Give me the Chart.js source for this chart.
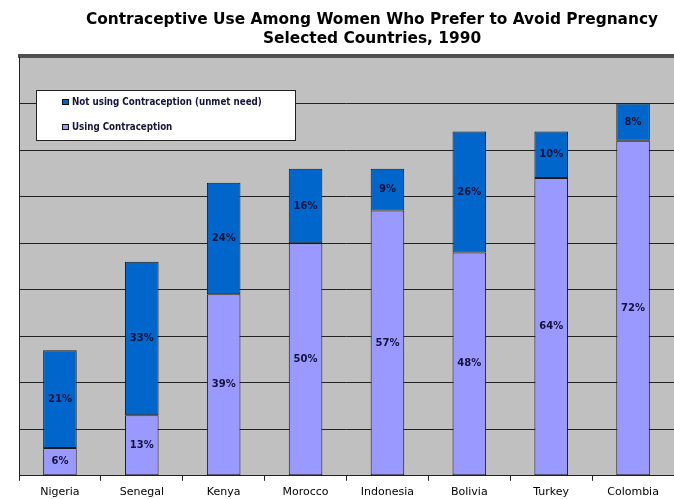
<!DOCTYPE html>
<html>
<head>
<meta charset="utf-8">
<script src="https://cdn.jsdelivr.net/npm/chart.js@4/dist/chart.umd.min.js"></script>
<style>
  html, body { margin: 0; padding: 0; background: #fff; }
  canvas { display: block; }
</style>
</head>
<body>
<canvas id="canvas" width="674" height="499"></canvas>
<script>
var countries = ['Nigeria', 'Senegal', 'Kenya', 'Morocco', 'Indonesia', 'Bolivia', 'Turkey', 'Colombia'];
var usingContraception = [6, 13, 39, 50, 57, 48, 64, 72];
var unmetNeed = [21, 33, 24, 16, 9, 26, 10, 8];
var titleLines = ['Contraceptive Use Among Women Who Prefer to Avoid Pregnancy', 'Selected Countries, 1990'];

// gray plot background plus the heavy top rule
var plotBackground = {
    id: 'plotBackground',
    beforeDraw: function(chart) {
        var c = chart.ctx, a = chart.chartArea;
        c.save();
        c.fillStyle = '#c0c0c0';
        c.fillRect(a.left, a.top, a.right - a.left, a.bottom - a.top);
        c.restore();
    },
    afterDraw: function(chart) {
        var c = chart.ctx, a = chart.chartArea;
        c.save();
        c.fillStyle = '#505050';
        c.fillRect(a.left - 1, a.top - 3, a.right - a.left + 2, 4);
        c.strokeStyle = '#222';
        c.lineWidth = 1;
        c.beginPath();
        c.moveTo(a.left + 0.5, a.top);
        c.lineTo(a.left + 0.5, a.bottom);
        c.stroke();
        c.restore();
    }
};

// two-line title, set a little right of center
var titleText = {
    id: 'titleText',
    afterDraw: function(chart) {
        var c = chart.ctx;
        c.save();
        c.fillStyle = '#000';
        c.font = 'bold 15.4px "DejaVu Sans", sans-serif';
        c.textAlign = 'center';
        c.textBaseline = 'middle';
        c.fillText(titleLines[0], 372, 20);
        c.fillText(titleLines[1], 372, 39);
        c.restore();
    }
};

// boxed legend inside the plot, unmet need listed first
var boxLegend = {
    id: 'boxLegend',
    afterDraw: function(chart) {
        var c = chart.ctx;
        var sets = chart.data.datasets.slice().reverse();
        c.save();
        c.fillStyle = '#fff';
        c.fillRect(36, 90, 259, 50);
        c.strokeStyle = '#222';
        c.lineWidth = 1;
        c.strokeRect(36.5, 90.5, 259, 50);
        c.font = 'bold 9.7px "DejaVu Sans Condensed", "DejaVu Sans", sans-serif';
        c.textBaseline = 'middle';
        sets.forEach(function(ds, i) {
            var y = 102 + i * 25;
            c.fillStyle = ds.backgroundColor;
            c.fillRect(62, y - 3, 7, 6);
            c.strokeStyle = '#111';
            c.strokeRect(62.5, y - 2.5, 6, 5);
            c.fillStyle = '#14143c';
            c.fillText(ds.label, 72, y);
        });
        c.restore();
    }
};

// percentage labels in the middle of each segment
var segmentLabels = {
    id: 'segmentLabels',
    afterDatasetsDraw: function(chart) {
        var c = chart.ctx;
        c.save();
        c.font = 'bold 10px "DejaVu Sans", sans-serif';
        c.fillStyle = '#14143c';
        c.textAlign = 'center';
        c.textBaseline = 'middle';
        chart.data.datasets.forEach(function(ds, di) {
            chart.getDatasetMeta(di).data.forEach(function(bar, i) {
                c.fillText(ds.data[i] + '%', bar.x, (bar.y + bar.base) / 2);
            });
        });
        c.restore();
    }
};

var barChartData = {
    labels: countries,
    datasets: [
    {
        label: 'Using Contraception',
        data: usingContraception,
        backgroundColor: '#9999ff',
        borderColor: '#1a1a1a',
        borderWidth: 1,
        borderSkipped: false
    },
    {
        label: 'Not using Contraception (unmet need)',
        data: unmetNeed,
        backgroundColor: '#0066cc',
        borderColor: '#1a1a1a',
        borderWidth: 1,
        borderSkipped: false
    }
    ]
};

var chartOptions = {
    responsive: false,
    animation: false,
    layout: { padding: { top: 57, left: 19, right: 0, bottom: -5 } },
    datasets: { bar: { categoryPercentage: 1, barPercentage: 0.41 } },
    plugins: {
        legend: { display: false },
        title: { display: false },
        tooltip: { enabled: false }
    },
    scales: {
        x: {
            stacked: true,
            grid: { drawOnChartArea: false, drawTicks: true, tickLength: 5, color: '#222', offset: true },
            border: { color: '#222', width: 1 },
            ticks: {
                color: '#000',
                padding: 5,
                font: { family: '"DejaVu Sans", sans-serif', size: 11 }
            }
        },
        y: {
            stacked: true,
            min: 0,
            max: 90,
            ticks: { display: false, stepSize: 10 },
            grid: { color: '#222', lineWidth: 1, drawTicks: false },
            border: { display: false }
        }
    }
};

window.onload = function() {
    var ctx = document.getElementById('canvas').getContext('2d');
    window.myBar = new Chart(ctx, {
        type: 'bar',
        data: barChartData,
        options: chartOptions,
        plugins: [plotBackground, titleText, boxLegend, segmentLabels]
    });
};
</script>
</body>
</html>
